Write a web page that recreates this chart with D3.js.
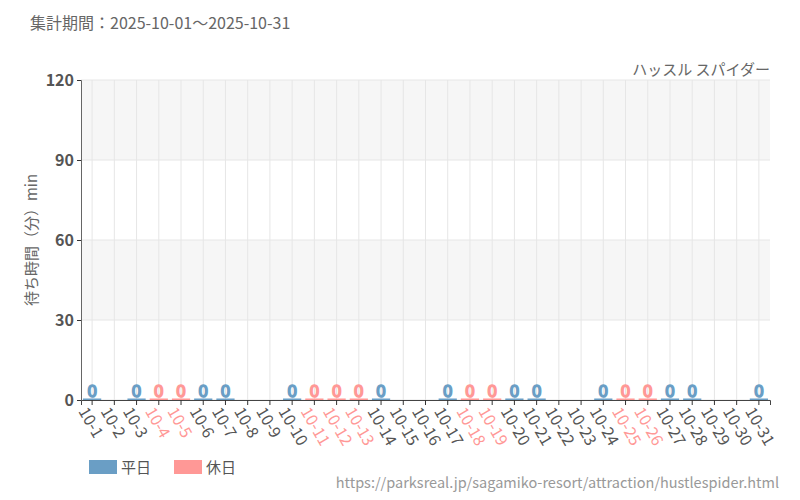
<!DOCTYPE html><html><head><meta charset="utf-8">
<script src="https://cdn.jsdelivr.net/npm/d3@7"></script>
<style>body{margin:0;background:#fff}text{font-family:"Noto Sans CJK JP","Noto Sans",sans-serif}</style></head><body>
<svg id="c" width="800" height="500"></svg>
<script>
const days = d3.range(1,32).map(d=>"10-"+d);
const values = [0,null,0,0,0,0,0,null,null,0,0,0,0,0,null,null,0,0,0,0,0,null,null,0,0,0,0,0,null,null,0];
const holidays = ["10-4","10-5","10-11","10-12","10-13","10-18","10-19","10-25","10-26"];
const yTicks = [0,30,60,90,120];
const svg = d3.select("#c");
const m={l:81,r:770,t:80,b:400};
const x=d3.scaleBand().domain(days).range([m.l,m.r]);
const y=d3.scaleLinear().domain([0,120]).range([m.b,m.t]);
const blue="#6a9ec5", pink="#ff9896";
svg.append("text").attr("x",30).attr("y",29).attr("font-size",16).attr("fill","#666").text("集計期間：2025-10-01～2025-10-31");
[[90,120],[30,60]].forEach(([a,b])=>svg.append("rect").attr("x",m.l).attr("width",m.r-m.l).attr("y",y(b)).attr("height",y(a)-y(b)).attr("fill","#f6f6f6"));
yTicks.forEach(t=>svg.append("line").attr("x1",m.l).attr("x2",m.r).attr("y1",y(t)).attr("y2",y(t)).attr("stroke","#e6e6e6"));
days.forEach(d=>svg.append("line").attr("x1",x(d)+x.bandwidth()/2).attr("x2",x(d)+x.bandwidth()/2).attr("y1",m.t).attr("y2",m.b).attr("stroke","#e6e6e6"));
svg.append("text").attr("x",770).attr("y",75).attr("text-anchor","end").attr("font-size",15).attr("fill","#666").text("ハッスル スパイダー");
days.forEach((d,i)=>{ if(values[i]==null) return;
  const c=holidays.includes(d)?pink:blue;
  svg.append("rect").attr("x",x(d)+2).attr("width",x.bandwidth()-4).attr("y",y(values[i])-1.5).attr("height",1.5).attr("fill",c);
  svg.append("text").attr("x",x(d)+x.bandwidth()/2).attr("y",y(values[i])-3).attr("text-anchor","middle").attr("font-size",17).attr("fill","#dde8f0").attr("stroke",c).attr("stroke-width",1.6).text(values[i]);
});
const ya=svg.append("g").attr("transform",`translate(${m.l},0)`).call(d3.axisLeft(y).tickValues(yTicks).tickSize(4));
ya.selectAll("text").attr("font-size",16).attr("font-weight","bold").attr("fill","#555");
ya.select(".domain").attr("stroke","#666");ya.selectAll("line").attr("stroke","#333");
const xa=svg.append("g").attr("transform",`translate(0,${m.b})`).call(d3.axisBottom(x).tickSize(5));
xa.select(".domain").attr("stroke","#444");xa.selectAll("line").attr("stroke","#333");
xa.selectAll("text").attr("font-size",16).attr("text-anchor","start").attr("fill",d=>holidays.includes(d)?pink:"#555")
  .attr("transform","translate(-6,2) rotate(60)").attr("dy","0.35em").attr("x",4).attr("y",6);
svg.append("text").attr("transform","translate(37,240) rotate(-90)").attr("text-anchor","middle").attr("font-size",15).attr("fill","#666").text("待ち時間（分）min");
svg.append("rect").attr("x",89).attr("y",460).attr("width",28).attr("height",14).attr("fill",blue);
svg.append("text").attr("x",121).attr("y",473).attr("font-size",15).attr("fill","#555").text("平日");
svg.append("rect").attr("x",174).attr("y",460).attr("width",28).attr("height",14).attr("fill",pink);
svg.append("text").attr("x",206).attr("y",473).attr("font-size",15).attr("fill","#555").text("休日");
svg.append("text").attr("x",779).attr("y",488).attr("text-anchor","end").attr("font-size",14.5).attr("fill","#999").text("https://parksreal.jp/sagamiko-resort/attraction/hustlespider.html");
</script></body></html>
